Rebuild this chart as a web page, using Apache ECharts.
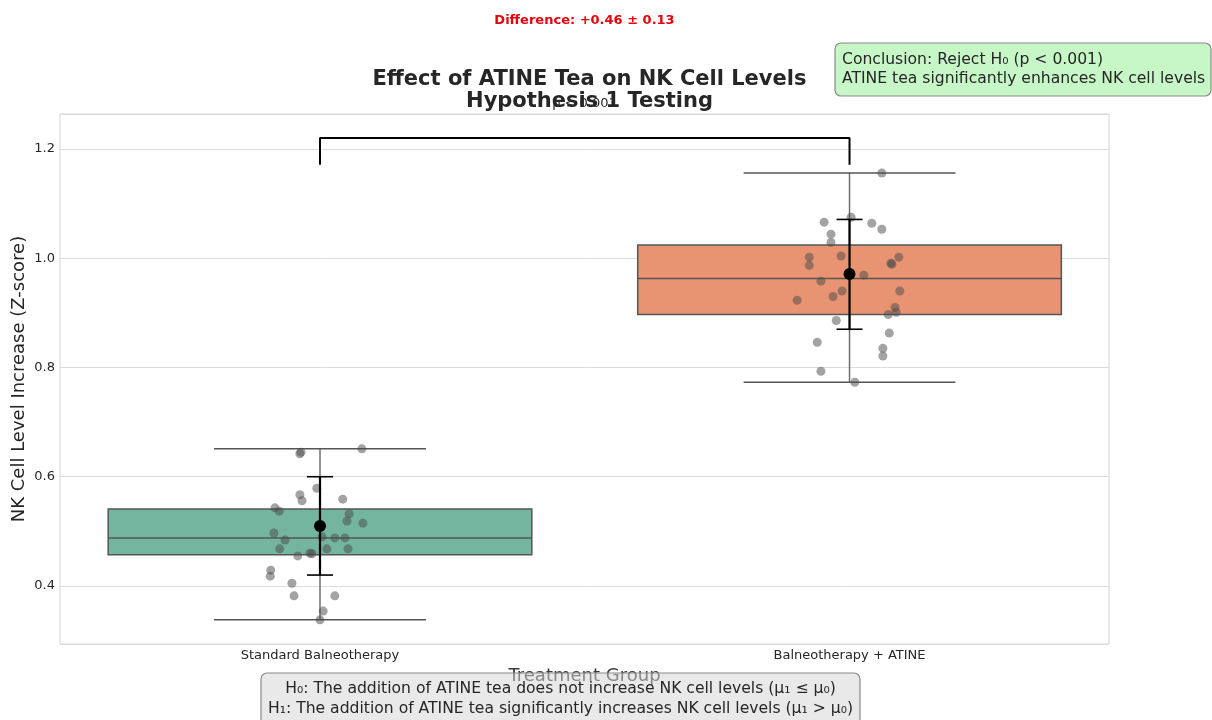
<!DOCTYPE html>
<html>
<head>
<meta charset="utf-8">
<script src="https://cdn.jsdelivr.net/npm/echarts@6/dist/echarts.min.js"></script>
<style>html,body{margin:0;padding:0;background:#fff;}#c{width:1212px;height:720px;}</style>
</head>
<body>
<div id="c"></div>
<script>
// ---- data ----
const categories = ['Standard Balneotherapy', 'Balneotherapy + ATINE'];
// box stats: [whiskerLow, Q1, median, Q3, whiskerHigh]
const boxStats = [
  [0.338, 0.457, 0.488, 0.541, 0.651],
  [0.773, 0.897, 0.963, 1.024, 1.156]
];
const means = [0.510, 0.971];
const errLow = [0.420, 0.870];
const errHigh = [0.600, 1.071];

const group1Values = [0.645,0.642,0.651,0.579,0.567,0.556,0.559,0.543,0.537,0.532,0.519,0.515,0.497,0.484,0.490,0.488,0.488,0.468,0.468,0.468,0.455,0.460,0.459,0.429,0.418,0.405,0.382,0.382,0.354,0.338];
const group1Jitter = [-0.036,-0.038,0.079,-0.006,-0.038,-0.034,0.043,-0.085,-0.077,0.055,0.051,0.081,-0.087,-0.066,0.004,0.028,0.047,-0.076,0.013,0.053,-0.042,-0.019,-0.015,-0.093,-0.094,-0.053,-0.049,0.028,0.006,0.000];
const group2Values = [1.156,1.075,1.066,1.064,1.053,1.044,1.029,1.002,0.987,1.004,1.002,0.989,0.991,0.969,0.958,0.940,0.930,0.940,0.923,0.910,0.901,0.897,0.886,0.863,0.846,0.835,0.821,0.793,0.773];
const group2Jitter = [0.061,0.003,-0.048,0.042,0.061,-0.035,-0.035,-0.076,-0.076,-0.016,0.093,0.080,0.078,0.027,-0.054,-0.014,-0.031,0.095,-0.099,0.086,0.088,0.073,-0.025,0.075,-0.061,0.063,0.063,-0.054,0.010];

const bracketLow = 1.171;
const bracketHigh = 1.220;
const yTicks = [0.4, 0.6, 0.8, 1.0, 1.2];

const titleText = 'Effect of ATINE Tea on NK Cell Levels\nHypothesis 1 Testing';
const diffText = 'Difference: +0.46 ± 0.13';
const pText = 'p < 0.001';
const conclusionText = 'Conclusion: Reject H₀ (p < 0.001)\nATINE tea significantly enhances NK cell levels';
const hypText = 'H₀: The addition of ATINE tea does not increase NK cell levels (μ₁ ≤ μ₀)\nH₁: The addition of ATINE tea significantly increases NK cell levels (μ₁ > μ₀)';

// ---- build ----
const boxColors = ['#73b59f', '#e89473'];
const FONT = 'DejaVu Sans';

const boxData = boxStats.map((s, i) => [i].concat(s));
const pointData = [];
group1Values.forEach((v, i) => pointData.push([0 + group1Jitter[i], v]));
group2Values.forEach((v, i) => pointData.push([1 + group2Jitter[i], v]));
const meanData = means.map((m, i) => [i, m, errLow[i], errHigh[i]]);
const bracketData = [[0, bracketLow], [0, bracketHigh], [1, bracketHigh], [1, bracketLow]];

const chart = echarts.init(document.getElementById('c'), null, {renderer: 'canvas'});

const option = {
  backgroundColor: '#ffffff',
  animation: false,
  textStyle: {fontFamily: FONT},
  title: {
    text: titleText,
    left: 584.5,
    top: 64,
    textAlign: 'center',
    textStyle: {fontFamily: FONT, fontSize: 21, fontWeight: 'bold', color: '#262626', lineHeight: 22}
  },
  grid: {left: 60, right: 103, top: 114, bottom: 76, show: true, borderColor: '#d4d4d4', borderWidth: 1, containLabel: false, outerBoundsMode: 'none'},
  xAxis: {
    type: 'value',
    min: -0.491,
    max: 1.490,
    name: 'Treatment Group',
    nameLocation: 'middle',
    nameGap: 23,
    nameMoveOverlap: false,
    nameTextStyle: {fontFamily: FONT, fontSize: 18, color: '#3a3a3a'},
    axisLine: {show: false},
    axisTick: {show: false},
    splitLine: {show: false},
    axisLabel: {
      customValues: [0, 1],
      formatter: v => categories[Math.round(v)],
      fontFamily: FONT, fontSize: 13, color: '#262626', margin: 5
    }
  },
  yAxis: {
    type: 'value',
    min: 0.2938,
    max: 1.264,
    name: 'NK Cell Level Increase (Z-score)',
    nameLocation: 'middle',
    nameGap: 32,
    nameMoveOverlap: false,
    nameTextStyle: {fontFamily: FONT, fontSize: 18, color: '#262626'},
    axisLine: {show: false},
    axisTick: {show: false},
    splitLine: {show: true, lineStyle: {color: '#dcdcdc', width: 1}},
    axisLabel: {
      customValues: yTicks,
      formatter: v => v.toFixed(1),
      fontFamily: FONT, fontSize: 13, color: '#262626', margin: 5
    }
  },
  series: [
    {
      type: 'custom',
      name: 'box',
      z: 2,
      data: boxData,
      encode: {x: 0, y: [1, 2, 3, 4, 5]},
      renderItem: function (params, api) {
        const x = api.value(0);
        const lo = api.value(1), q1 = api.value(2), md = api.value(3), q3 = api.value(4), hi = api.value(5);
        const hw = 0.4, cw = 0.2;
        const pLo = api.coord([x, lo]), pHi = api.coord([x, hi]);
        const pQ1 = api.coord([x, q1]), pQ3 = api.coord([x, q3]);
        const l = api.coord([x - hw, md])[0], r = api.coord([x + hw, md])[0];
        const cl = api.coord([x - cw, md])[0], cr = api.coord([x + cw, md])[0];
        const pMd = api.coord([x, md]);
        const wStyle = {stroke: '#707070', lineWidth: 1.5};
        const eStyle = {stroke: '#555555', lineWidth: 1.5};
        return {
          type: 'group',
          children: [
            {type: 'line', shape: {x1: pLo[0], y1: pLo[1], x2: pQ1[0], y2: pQ1[1]}, style: wStyle},
            {type: 'line', shape: {x1: pQ3[0], y1: pQ3[1], x2: pHi[0], y2: pHi[1]}, style: wStyle},
            {type: 'line', shape: {x1: cl, y1: pLo[1], x2: cr, y2: pLo[1]}, style: eStyle},
            {type: 'line', shape: {x1: cl, y1: pHi[1], x2: cr, y2: pHi[1]}, style: eStyle},
            {type: 'rect', shape: {x: l, y: pQ3[1], width: r - l, height: pQ1[1] - pQ3[1]},
              style: {fill: boxColors[params.dataIndex], stroke: '#555555', lineWidth: 1.5}},
            {type: 'line', shape: {x1: l, y1: pMd[1], x2: r, y2: pMd[1]}, style: eStyle},
            {type: 'line', shape: {x1: pQ1[0], y1: pQ1[1], x2: pQ3[0], y2: pQ3[1]}, style: {stroke: '#707070', lineWidth: 1.2, opacity: 0.6}}
          ]
        };
      }
    },
    {
      type: 'scatter',
      name: 'points',
      z: 3,
      symbol: 'circle',
      symbolSize: 9,
      itemStyle: {color: 'rgba(75,75,75,0.64)'},
      data: pointData
    },
    {
      type: 'custom',
      name: 'mean',
      z: 4,
      data: meanData,
      encode: {x: 0, y: [1, 2, 3]},
      renderItem: function (params, api) {
        const x = api.value(0);
        const pm = api.coord([x, api.value(1)]);
        const pl = api.coord([x, api.value(2)]);
        const ph = api.coord([x, api.value(3)]);
        const st = {stroke: '#000000', lineWidth: 2.2};
        return {
          type: 'group',
          children: [
            {type: 'line', shape: {x1: pl[0], y1: pl[1], x2: ph[0], y2: ph[1]}, style: st},
            {type: 'line', shape: {x1: pl[0] - 13, y1: pl[1], x2: pl[0] + 13, y2: pl[1]}, style: {stroke: '#000', lineWidth: 1.6}},
            {type: 'line', shape: {x1: ph[0] - 13, y1: ph[1], x2: ph[0] + 13, y2: ph[1]}, style: {stroke: '#000', lineWidth: 1.6}},
            {type: 'circle', shape: {cx: pm[0], cy: pm[1], r: 6}, style: {fill: '#000000'}}
          ]
        };
      }
    },
    {
      type: 'line',
      name: 'bracket',
      z: 5,
      data: bracketData,
      symbol: 'none',
      lineStyle: {color: '#000000', width: 2},
      clip: false
    }
  ],
  graphic: [
    {
      type: 'text', x: 584.5, y: 14, z: 10,
      style: {text: diffText, fill: '#e8000b', font: 'bold 13px "DejaVu Sans"', textAlign: 'center'}
    },
    {
      type: 'text', z: 9, x: 584.5, y: 97,
      style: {text: pText, fill: '#262626', font: '13px "DejaVu Sans"', textAlign: 'center'}
    },
    {
      type: 'rect', z: 10, shape: {x: 835, y: 43, width: 376, height: 53, r: 6},
      style: {fill: 'rgba(144,238,144,0.5)', stroke: '#8a8a8a', lineWidth: 1.2}
    },
    {
      type: 'text', z: 11, x: 842, y: 50,
      style: {text: conclusionText, fill: '#262626', font: '15.6px "DejaVu Sans"', lineHeight: 19, textAlign: 'left'}
    },
    {
      type: 'rect', z: 10, shape: {x: 261, y: 673, width: 599, height: 55, r: 6},
      style: {fill: 'rgba(211,211,211,0.5)', stroke: '#8a8a8a', lineWidth: 1.2}
    },
    {
      type: 'text', z: 11, x: 560.5, y: 679,
      style: {text: hypText, fill: '#262626', font: '15.6px "DejaVu Sans"', lineHeight: 20, textAlign: 'center'}
    }
  ]
};
chart.setOption(option);
</script>
</body>
</html>
